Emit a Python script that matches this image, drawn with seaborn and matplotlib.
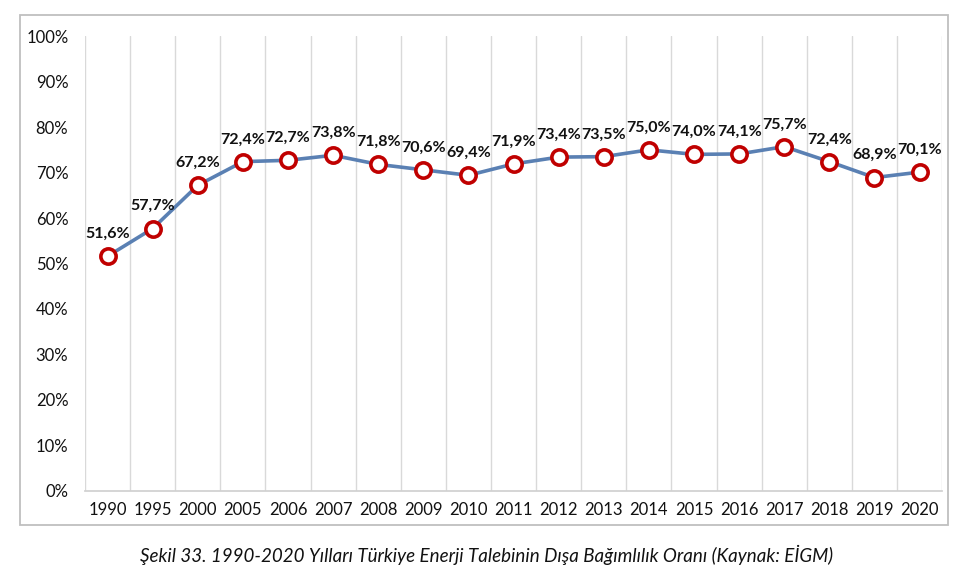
import numpy as np
import pandas as pd
import matplotlib
matplotlib.use("Agg")
import matplotlib.pyplot as plt
import seaborn as sns
from matplotlib.patches import Rectangle

# data
years = ["1990", "1995", "2000", "2005", "2006", "2007", "2008", "2009", "2010",
         "2011", "2012", "2013", "2014", "2015", "2016", "2017", "2018", "2019", "2020"]
ratio = [51.6, 57.7, 67.2, 72.4, 72.7, 73.8, 71.8, 70.6, 69.4,
         71.9, 73.4, 73.5, 75.0, 74.0, 74.1, 75.7, 72.4, 68.9, 70.1]
y_ticks = [0, 10, 20, 30, 40, 50, 60, 70, 80, 90, 100]
caption = "Şekil 33. 1990-2020 Yılları Türkiye Enerji Talebinin Dışa Bağımlılık Oranı (Kaynak: EİGM)"

df = pd.DataFrame({"pos": np.arange(len(years)), "year": years, "ratio": ratio})

sns.set_theme(style="white")
plt.rcParams["font.family"] = ["Lato", "DejaVu Sans"]

fig = plt.figure(figsize=(9.74, 5.83), dpi=100)
ax = fig.add_axes([0.0873, 0.158, 0.880, 0.780])

sns.lineplot(data=df, x="pos", y="ratio", ax=ax, color="#5A80B3", linewidth=2.6,
             marker="o", markersize=11, markerfacecolor="white",
             markeredgecolor="#C00000", markeredgewidth=2.6, zorder=3)

for p, v in zip(df["pos"], df["ratio"]):
    ax.annotate(f"{v:.1f}%".replace(".", ","), (p, v), xytext=(0, 11),
                textcoords="offset points", ha="center", va="bottom",
                fontsize=11.5, fontweight="bold", color="#111111")

ax.set_xlim(-0.5, len(years) - 0.5)
ax.set_ylim(0, 100)
ax.set_xticks(df["pos"])
ax.set_xticklabels(years, fontsize=12)
ax.set_yticks(y_ticks)
ax.set_yticklabels([f"{t}%" for t in y_ticks], fontsize=12)
ax.set_xticks(np.arange(-0.5, len(years), 1), minor=True)
ax.grid(which="minor", axis="x", color="#D9D9D9", linewidth=1)
ax.grid(which="major", visible=False)
ax.tick_params(axis="both", which="both", length=0, colors="#111111")
ax.tick_params(axis="x", pad=8)
ax.tick_params(axis="y", pad=12)
ax.set_xlabel("")
ax.set_ylabel("")
for s in ["top", "right", "left"]:
    ax.spines[s].set_visible(False)
ax.spines["bottom"].set_color("#D0D0D0")

# outer chart frame
fig.patches.append(Rectangle((20 / 974, 1 - 525 / 583), 928 / 974, 510 / 583,
                             transform=fig.transFigure, fill=False,
                             edgecolor="#BFBFBF", linewidth=1.3))

fig.text(0.5, 1 - 555 / 583, caption, ha="center", va="center",
         fontsize=13.5, style="italic", color="#111111")

fig.savefig("out.png", dpi=100)
